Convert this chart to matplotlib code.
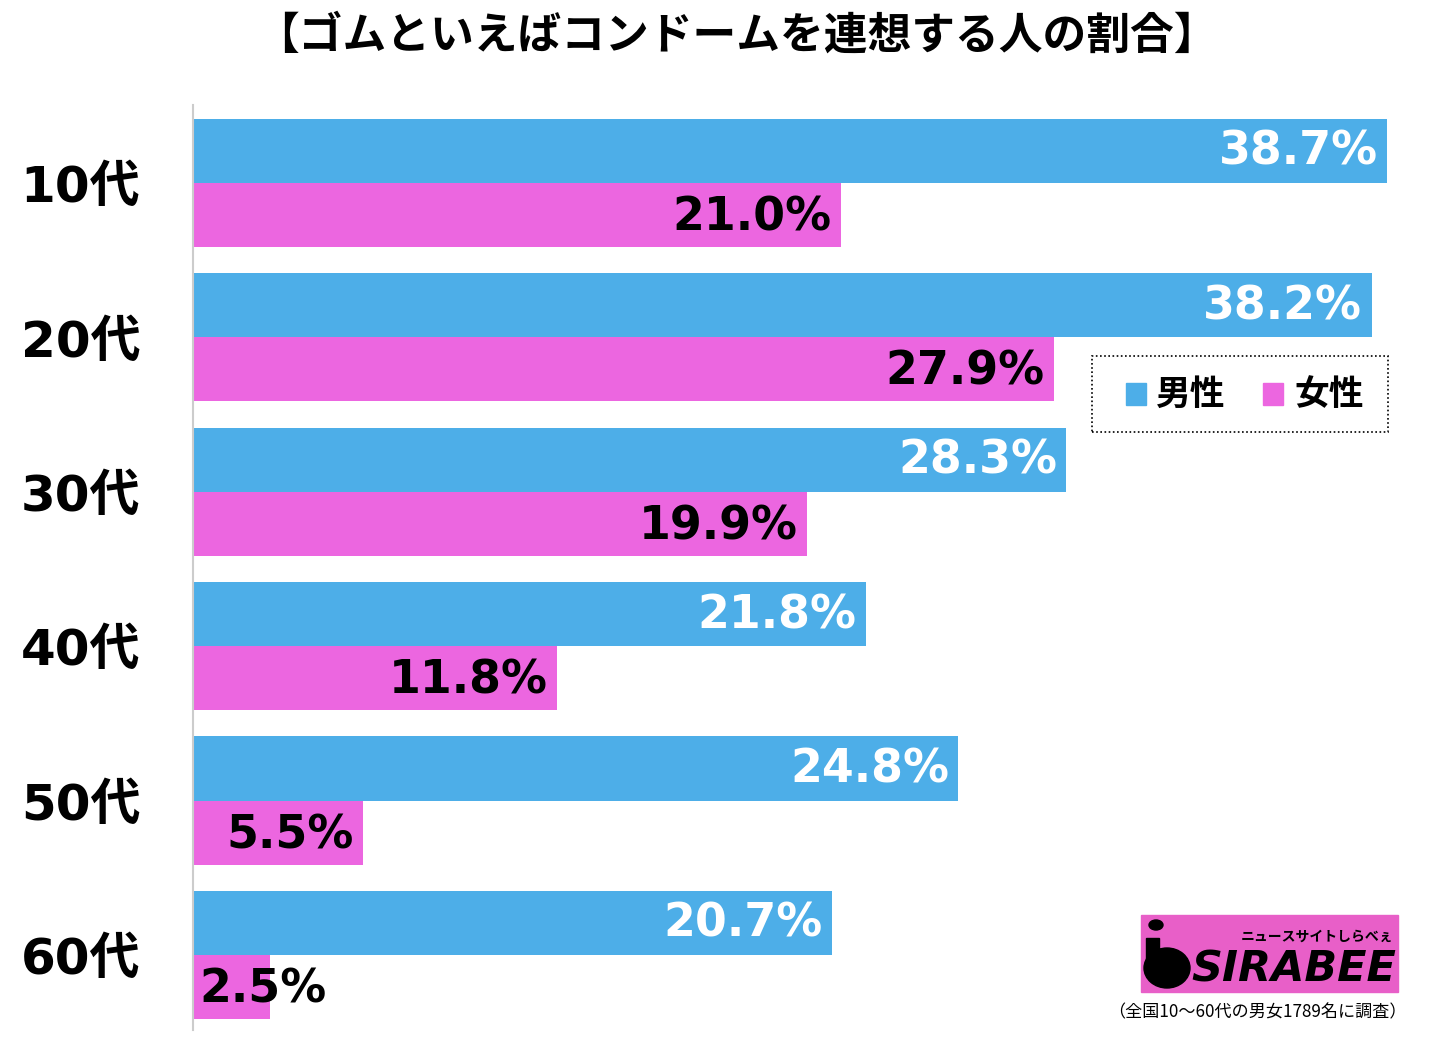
import matplotlib
matplotlib.use("Agg")
import matplotlib.pyplot as plt
from matplotlib.patches import Rectangle, Ellipse, Circle

plt.rcParams['font.family'] = ['Noto Sans CJK JP', 'DejaVu Sans']

TITLE = "【ゴムといえばコンドームを連想する人の割合】"
ages = ["10代", "20代", "30代", "40代", "50代", "60代"]
male = [38.7, 38.2, 28.3, 21.8, 24.8, 20.7]
female = [21.0, 27.9, 19.9, 11.8, 5.5, 2.5]
series_names = ["男性", "女性"]
NOTE = "（全国10〜60代の男女1789名に調査）"

BLUE = "#4DAEE8"
PINK = "#EC66E0"
NUM_FONT = ['DejaVu Sans', 'Noto Sans CJK JP']

fig = plt.figure(figsize=(14.52, 10.37), dpi=100)
ax = fig.add_axes([0.1329, 0.00675, 0.8313, 0.892])

h = 0.415
ys = list(range(len(ages)))
ax.barh([y - h / 2 for y in ys], male, height=h, color=BLUE)
ax.barh([y + h / 2 for y in ys], female, height=h, color=PINK)

for y, v in zip(ys, male):
    ax.text(v - 0.3, y - h / 2 + 0.01, f"{v:.1f}%", ha="right", va="center",
            color="white", fontsize=33, fontweight="bold", family=NUM_FONT)
for y, v in zip(ys, female):
    if v > 4:
        ax.text(v - 0.3, y + h / 2 + 0.02, f"{v:.1f}%", ha="right", va="center",
                color="black", fontsize=33, fontweight="bold", family=NUM_FONT)
    else:
        ax.text(0.2, y + h / 2 + 0.02, f"{v:.1f}%", ha="left", va="center",
                color="black", fontsize=33, fontweight="bold", family=NUM_FONT)

ax.set_xlim(0, 39.12)
ax.set_ylim(5.486, -0.505)
ax.set_yticks(ys)
ax.set_yticklabels(ages, fontsize=36, fontweight="bold", family=NUM_FONT)
ax.tick_params(axis="y", length=0, pad=38)
ax.set_xticks([])
for s in ["top", "right", "bottom"]:
    ax.spines[s].set_visible(False)
ax.spines["left"].set_color("#CCCCCC")
ax.spines["left"].set_linewidth(1.5)

fig.text(0.507, 0.966, TITLE, ha="center", va="center", fontsize=31.5, fontweight="bold")

# legend box
fig.patches.append(Rectangle((1092 / 1452, 1 - 432 / 1037), 296 / 1452, 76 / 1037,
                             transform=fig.transFigure, fill=False, edgecolor="black",
                             linestyle=(0, (1, 1.5)), linewidth=1.2))
fig.patches.append(Rectangle((1126 / 1452, 1 - 405 / 1037), 20 / 1452, 22 / 1037,
                             transform=fig.transFigure, color=BLUE))
fig.text(1156 / 1452, 1 - 394 / 1037, series_names[0], ha="left", va="center",
         fontsize=25, fontweight="bold")
fig.patches.append(Rectangle((1263 / 1452, 1 - 405 / 1037), 20 / 1452, 22 / 1037,
                             transform=fig.transFigure, color=PINK))
fig.text(1294 / 1452, 1 - 394 / 1037, series_names[1], ha="left", va="center",
         fontsize=25, fontweight="bold")

# logo
W, H = 1452, 1037
fig.patches.append(Rectangle((1141 / W, 1 - 992 / H), 257 / W, 77 / H,
                             transform=fig.transFigure, color="#E85FC8"))
fig.patches.append(Circle((1156 / W, 1 - 925 / H), 7 / W, transform=fig.transFigure,
                          color="black"))
fig.patches.append(Rectangle((1146 / W, 1 - 968 / H), 13 / W, 30 / H,
                             transform=fig.transFigure, color="black"))
fig.patches.append(Ellipse((1167 / W, 1 - 968 / H), 46 / W, 40 / H,
                           transform=fig.transFigure, color="black"))
fig.text(1393 / W, 1 - 937 / H, "ニュースサイトしらべぇ", ha="right", va="center",
         fontsize=10, fontweight="bold", color="black")
fig.text(1396 / W, 1 - 969 / H, "SIRABEE", ha="right", va="center",
         fontsize=31, fontweight="heavy", style="italic", color="black",
         family="DejaVu Sans")
fig.text(1257 / W, 1 - 1012 / H, NOTE, ha="center", va="center", fontsize=12.3)

fig.savefig("out.png", dpi=100)
